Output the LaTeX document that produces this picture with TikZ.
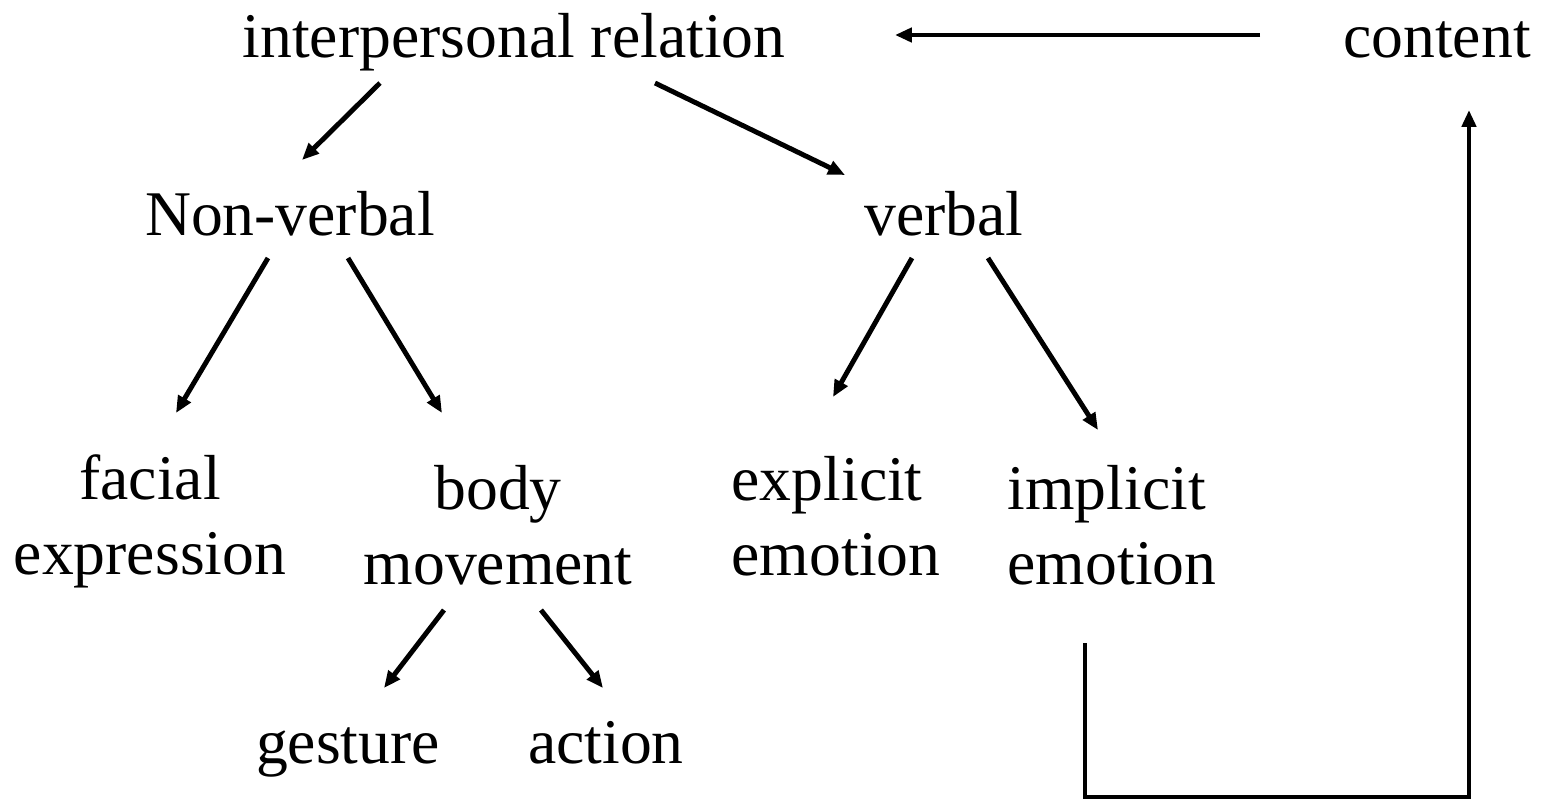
\documentclass[tikz,border=0pt]{standalone}
\usepackage{fontspec}
\setmainfont{Liberation Serif}
\usetikzlibrary{arrows.meta}
\begin{document}
\begin{tikzpicture}
  [x=0.01cm,y=-0.01cm,
   term/.style={align=center,inner sep=0pt,
                font=\fontsize{18.1}{21.3}\selectfont},
   link/.style={line width=1.4pt,-{Triangle[length=4.8pt,width=4pt]}}]
  \useasboundingbox (0,0) rectangle (1541,802);
  \node[term,anchor=base] (inter) at (514,57) {interpersonal relation};
  \node[term,anchor=base] (content) at (1437,57) {content};
  \node[term,anchor=base] (nonverbal) at (290,235) {Non-verbal};
  \node[term,anchor=base] (verbal) at (944,235) {verbal};
  \node[term] (facial) at (150,521) {facial\\expression};
  \node[term] (body) at (498,525) {body\\movement};
  \node[term,align=left] (explicit) at (836,516) {explicit\\emotion};
  \node[term,align=left] (implicit) at (1112,525) {implicit\\emotion};
  \node[term,anchor=base] (gesture) at (348,763) {gesture};
  \node[term,anchor=base] (action) at (606,763) {action};
  \draw[link] ([shift={(-177,-22)}]content.base) -- ([shift={(381,-22)}]inter.base);
  \draw[link] ([shift={(-134,26)}]inter.base) -- ([shift={(12,-75)}]nonverbal.base);
  \draw[link] ([shift={(141,26)}]inter.base) -- ([shift={(-99,-60)}]verbal.base);
  \draw[link] ([shift={(-22,23)}]nonverbal.base) -- ([shift={(26,-108)}]facial.center);
  \draw[link] ([shift={(58,23)}]nonverbal.base) -- ([shift={(-56,-112)}]body.center);
  \draw[link] ([shift={(-32,23)}]verbal.base) -- ([shift={(-3,-119)}]explicit.center);
  \draw[link] ([shift={(44,23)}]verbal.base) -- ([shift={(-14,-95)}]implicit.center);
  \draw[link] ([shift={(-54,85)}]body.center) -- ([shift={(36,-75)}]gesture.base);
  \draw[link] ([shift={(43,85)}]body.center) -- ([shift={(-3,-75)}]action.base);
  \draw[link] ([shift={(-27,118)}]implicit.center) -- ++(0,154)
    -| ([shift={(32,53)}]content.base);
\end{tikzpicture}
\end{document}
